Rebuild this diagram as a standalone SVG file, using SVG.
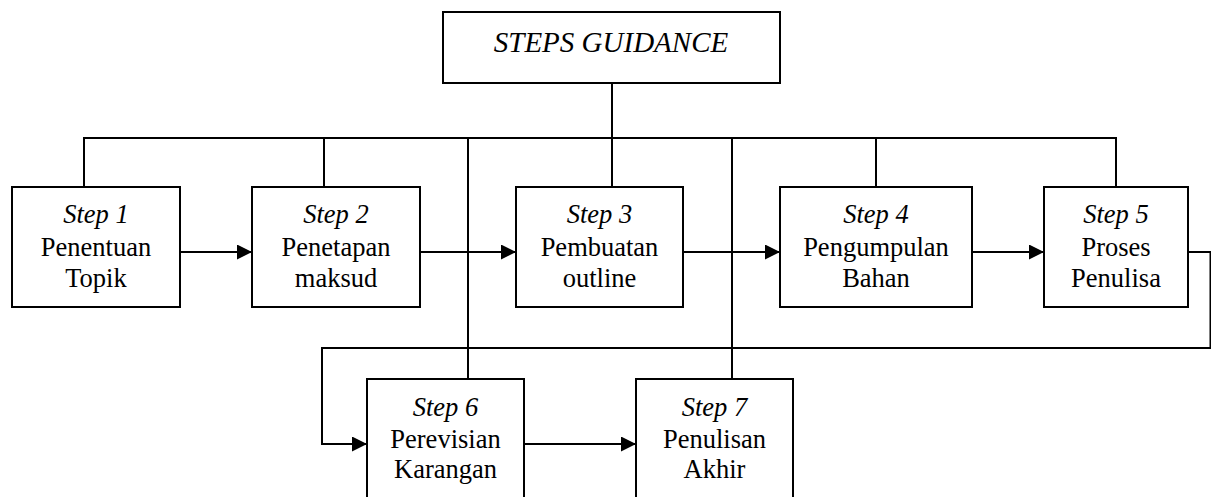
<svg xmlns="http://www.w3.org/2000/svg" width="1211" height="497" viewBox="0 0 1211 497">
<defs>
<marker id="ah" markerWidth="15" markerHeight="15" refX="15" refY="7.5" orient="auto" markerUnits="userSpaceOnUse">
<path d="M0,0 L15,7.5 L0,15 Z" fill="#000"/>
</marker>
<style>
.box{fill:#fff;stroke:#000;stroke-width:2}
.ln{fill:none;stroke:#000;stroke-width:2}
.t{font-family:'Liberation Serif','Times New Roman',serif;font-size:26.5px;fill:#000;text-anchor:middle}
.i{font-style:italic}
.title{font-size:29px}
</style>
</defs>
<rect width="1211" height="497" fill="#fff"/>
<g id="connectors">
<path class="ln" d="M612,83 V138"/>
<path class="ln" d="M84,187 V138 H1116 V187"/>
<path class="ln" d="M324,138 V187"/>
<path class="ln" d="M468,138 V379"/>
<path class="ln" d="M612,138 V187"/>
<path class="ln" d="M732,138 V379"/>
<path class="ln" d="M876,138 V187"/>
<path class="ln" d="M180,252 H252" marker-end="url(#ah)"/>
<path class="ln" d="M420,252 H516" marker-end="url(#ah)"/>
<path class="ln" d="M683,252 H780" marker-end="url(#ah)"/>
<path class="ln" d="M972,252 H1044" marker-end="url(#ah)"/>
<path class="ln" d="M1188,252 H1210.5 V348 H322 V444 H367" marker-end="url(#ah)"/>
<path class="ln" d="M524,444 H636" marker-end="url(#ah)"/>
</g>
<g id="title">
<rect class="box" x="443" y="12" width="337" height="71"/>
<text class="t i title" x="611" y="52">STEPS GUIDANCE</text>
</g>
<g id="step1">
<rect class="box" x="12" y="187" width="168" height="120"/>
<text class="t i" x="96" y="223">Step 1</text>
<text class="t" x="96" y="256">Penentuan</text>
<text class="t" x="96" y="287">Topik</text>
</g>
<g id="step2">
<rect class="box" x="252" y="187" width="168" height="120"/>
<text class="t i" x="336" y="223">Step 2</text>
<text class="t" x="336" y="256">Penetapan</text>
<text class="t" x="336" y="287">maksud</text>
</g>
<g id="step3">
<rect class="box" x="516" y="187" width="167" height="120"/>
<text class="t i" x="599.5" y="223">Step 3</text>
<text class="t" x="599.5" y="256">Pembuatan</text>
<text class="t" x="599.5" y="287">outline</text>
</g>
<g id="step4">
<rect class="box" x="780" y="187" width="192" height="120"/>
<text class="t i" x="876" y="223">Step 4</text>
<text class="t" x="876" y="256">Pengumpulan</text>
<text class="t" x="876" y="287">Bahan</text>
</g>
<g id="step5">
<rect class="box" x="1044" y="187" width="144" height="120"/>
<text class="t i" x="1116" y="223">Step 5</text>
<text class="t" x="1116" y="256">Proses</text>
<text class="t" x="1116" y="287">Penulisa</text>
</g>
<g id="step6">
<rect class="box" x="367" y="379" width="157" height="130"/>
<text class="t i" x="445.5" y="416">Step 6</text>
<text class="t" x="445.5" y="448">Perevisian</text>
<text class="t" x="445.5" y="478">Karangan</text>
</g>
<g id="step7">
<rect class="box" x="636" y="379" width="157" height="130"/>
<text class="t i" x="714.5" y="416">Step 7</text>
<text class="t" x="714.5" y="448">Penulisan</text>
<text class="t" x="714.5" y="478">Akhir</text>
</g>
</svg>
